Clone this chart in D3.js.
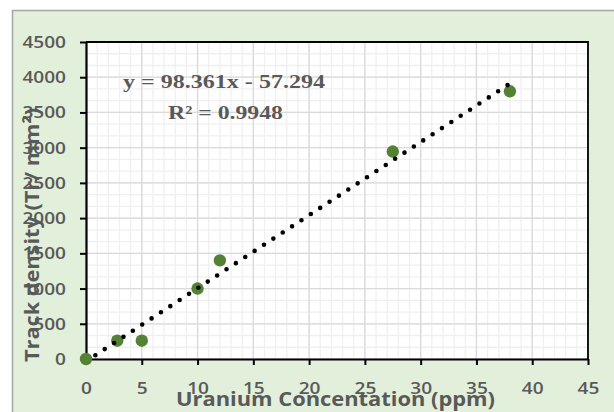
<!DOCTYPE html>
<html lang="en">
<head>
  <meta charset="UTF-8" />
  <title>Track density vs Uranium concentration</title>
  <style>
    body { margin: 0; background: #fff; }
    svg { display: block; }
    .tick text { font-family: "Open Sans", sans-serif; font-weight: 600; font-size: 17px; fill: #595959; }
  </style>
</head>
<body>
  <div id="chart"></div>

  <script src="https://d3js.org/d3.v7.min.js"></script>
  <script>
    // measured points
    const uranium = [0, 2.8, 5, 10, 12, 27.5, 38];
    const trackDensity = [0, 260, 260, 1000, 1400, 2945, 3800];

    // linear trendline ends, as drawn
    const trendX = [0, 38];
    const trendY = [-34, 3910];

    const xTicks = [0, 5, 10, 15, 20, 25, 30, 35, 40, 45];
    const yTicks = [0, 500, 1000, 1500, 2000, 2500, 3000, 3500, 4000, 4500];
    const equationLines = ["y = 98.361x - 57.294", "R\u00b2 = 0.9948"];

    const W = 614, H = 412;
    const plotL = 86, plotR = 588, plotT = 42, plotB = 359;

    const svg = d3.select("#chart").append("svg")
      .attr("width", W).attr("height", H);

    // chart area
    svg.append("rect")
      .attr("x", 12.5).attr("y", 10.5)
      .attr("width", W).attr("height", H)
      .attr("fill", "#e2efda").attr("stroke", "#a6a6a6").attr("stroke-width", 1.5);

    const x = d3.scaleLinear().domain([0, 45]).range([plotL, plotR]);
    const y = d3.scaleLinear().domain([0, 4500]).range([plotB, plotT]);

    svg.append("rect")
      .attr("x", plotL).attr("y", plotT)
      .attr("width", plotR - plotL).attr("height", plotB - plotT)
      .attr("fill", "#fff");

    // minor grid
    const minorX = d3.range(0, 45, 1);
    const minorY = d3.range(0, 4500, 500 / 3);
    const grid = svg.append("g");
    grid.selectAll(".mx").data(minorX).enter().append("line")
      .attr("x1", d => x(d)).attr("x2", d => x(d))
      .attr("y1", plotT).attr("y2", plotB)
      .attr("stroke", "#f0f0f0").attr("stroke-width", 1.3);
    grid.selectAll(".my").data(minorY).enter().append("line")
      .attr("y1", d => y(d)).attr("y2", d => y(d))
      .attr("x1", plotL).attr("x2", plotR)
      .attr("stroke", "#f0f0f0").attr("stroke-width", 1.3);
    // major grid
    grid.selectAll(".Mx").data(xTicks).enter().append("line")
      .attr("x1", d => x(d)).attr("x2", d => x(d))
      .attr("y1", plotT).attr("y2", plotB)
      .attr("stroke", "#dadada").attr("stroke-width", 1.3);
    grid.selectAll(".My").data(yTicks).enter().append("line")
      .attr("y1", d => y(d)).attr("y2", d => y(d))
      .attr("x1", plotL).attr("x2", plotR)
      .attr("stroke", "#dadada").attr("stroke-width", 1.3);

    // top and right border
    svg.append("path")
      .attr("d", `M${plotL},${plotT}H${plotR}V${plotB}`)
      .attr("fill", "none").attr("stroke", "#000").attr("stroke-width", 1.8);

    // axes
    const xAxis = svg.append("g")
      .attr("transform", `translate(0,${plotB})`)
      .call(d3.axisBottom(x).tickValues(xTicks).tickFormat(d3.format("d"))
        .tickSize(6).tickSizeOuter(0).tickPadding(17));
    const yAxis = svg.append("g")
      .attr("transform", `translate(${plotL},0)`)
      .call(d3.axisLeft(y).tickValues(yTicks).tickFormat(d3.format("d"))
        .tickSize(6).tickSizeOuter(0).tickPadding(14));

    [xAxis, yAxis].forEach(a => {
      a.attr("font-family", null).attr("font-size", null);
      a.select(".domain").attr("stroke", "#000").attr("stroke-width", 2.2);
      a.selectAll(".tick line").attr("stroke", "#000").attr("stroke-width", 2);
      a.selectAll(".tick text")
        .attr("fill", null)
        .attr("textLength", d => String(d).length * 10.9)
        .attr("lengthAdjust", "spacingAndGlyphs");
    });

    // data points
    svg.append("g").selectAll("circle")
      .data(uranium.map((u, i) => [u, trackDensity[i]]))
      .enter().append("circle")
      .attr("cx", d => x(d[0])).attr("cy", d => y(d[1]))
      .attr("r", 6.2)
      .attr("fill", "#548235");

    // dotted trendline
    svg.append("clipPath").attr("id", "plotClip")
      .append("rect").attr("x", plotL).attr("y", plotT)
      .attr("width", plotR - plotL).attr("height", plotB - plotT);

    const line = d3.line().x(d => x(d[0])).y(d => y(d[1]));
    svg.append("path")
      .datum(trendX.map((t, i) => [t, trendY[i]]))
      .attr("d", line)
      .attr("clip-path", "url(#plotClip)")
      .attr("fill", "none").attr("stroke", "#000")
      .attr("stroke-width", 4.6).attr("stroke-linecap", "round")
      .attr("stroke-dasharray", "0 11.2");

    // equation label
    const eq = svg.append("g")
      .attr("font-family", "'Liberation Serif', 'Times New Roman', serif")
      .attr("font-weight", "bold").attr("font-size", 19).attr("fill", "#595959");
    eq.append("text").attr("x", 123).attr("y", 87.5)
      .attr("textLength", 202).attr("lengthAdjust", "spacingAndGlyphs")
      .text(equationLines[0]);
    eq.append("text").attr("x", 168).attr("y", 118.5)
      .attr("textLength", 115).attr("lengthAdjust", "spacingAndGlyphs")
      .text(equationLines[1]);

    // axis titles (they sit over the tick labels, as in the original)
    svg.append("text")
      .attr("x", 176).attr("y", 406)
      .attr("textLength", 319).attr("lengthAdjust", "spacingAndGlyphs")
      .attr("font-family", "'Open Sans', sans-serif").attr("font-weight", "bold")
      .attr("font-size", 19).attr("fill", "#595959")
      .text("Uranium Concentation (ppm)");

    svg.append("text")
      .attr("transform", "translate(39,362) rotate(-90)")
      .attr("textLength", 254).attr("lengthAdjust", "spacingAndGlyphs")
      .attr("font-family", "'Open Sans', sans-serif").attr("font-weight", "bold")
      .attr("font-size", 20).attr("fill", "#595959")
      .text("Track density (Tr/ mm\u00b2)");
  </script>
</body>
</html>
